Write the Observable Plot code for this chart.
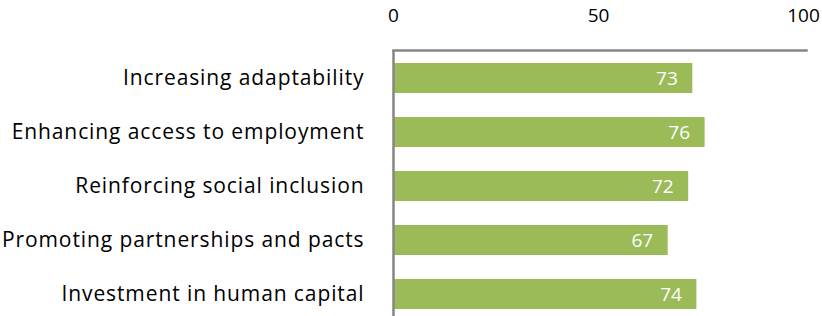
<!DOCTYPE html>
<html>
<head>
<meta charset="utf-8">
<script src="https://cdn.jsdelivr.net/npm/d3@7"></script>
<script src="https://cdn.jsdelivr.net/npm/@observablehq/plot@0.6"></script>
<style>
  html, body { margin: 0; padding: 0; background: #fff; }
  #chart svg { display: block; }
  #chart g[aria-label="y-axis tick label"] text { letter-spacing: 0.9px; }
</style>
</head>
<body>
<div id="chart"></div>
<script>
const categories = [
  "Increasing adaptability",
  "Enhancing access to employment",
  "Reinforcing social inclusion",
  "Promoting partnerships and pacts",
  "Investment in human capital"
];
const values = [73, 76, 72, 67, 74];
const xTicks = [0, 50, 100];

const data = categories.map((c, i) => ({category: c, value: values[i]}));

const font = "'Open Sans', sans-serif";

const chart = Plot.plot({
  width: 822,
  height: 316,
  marginTop: 50,
  marginBottom: 0,
  marginLeft: 393,
  marginRight: 16,
  style: {fontFamily: font, background: "#fff"},
  x: {domain: [0, 100], range: [393, 803]},
  y: {domain: categories, range: [51, 321], paddingInner: 0.444, paddingOuter: 0.222},
  marks: [
    Plot.barX(data, {x: "value", y: "category", fill: "#9BBB59"}),
    Plot.text(data, {x: "value", y: "category", text: d => String(d.value), textAnchor: "end", dx: -15, fill: "#fff", fontSize: 19, fontFamily: font}),
    Plot.ruleX([0], {stroke: "#868686", strokeWidth: 2.5}),
    Plot.frame({anchor: "top", stroke: "#868686", strokeWidth: 2.5}),
    Plot.axisX({anchor: "top", ticks: xTicks, tickSize: 0, tickPadding: 29, fontSize: 19, fill: "#000", label: null, tickFormat: d => String(d)}),
    Plot.axisY({anchor: "left", tickSize: 0, tickPadding: 29, fontSize: 21, fill: "#000", label: null})
  ]
});
document.getElementById("chart").appendChild(chart);
</script>
</body>
</html>
